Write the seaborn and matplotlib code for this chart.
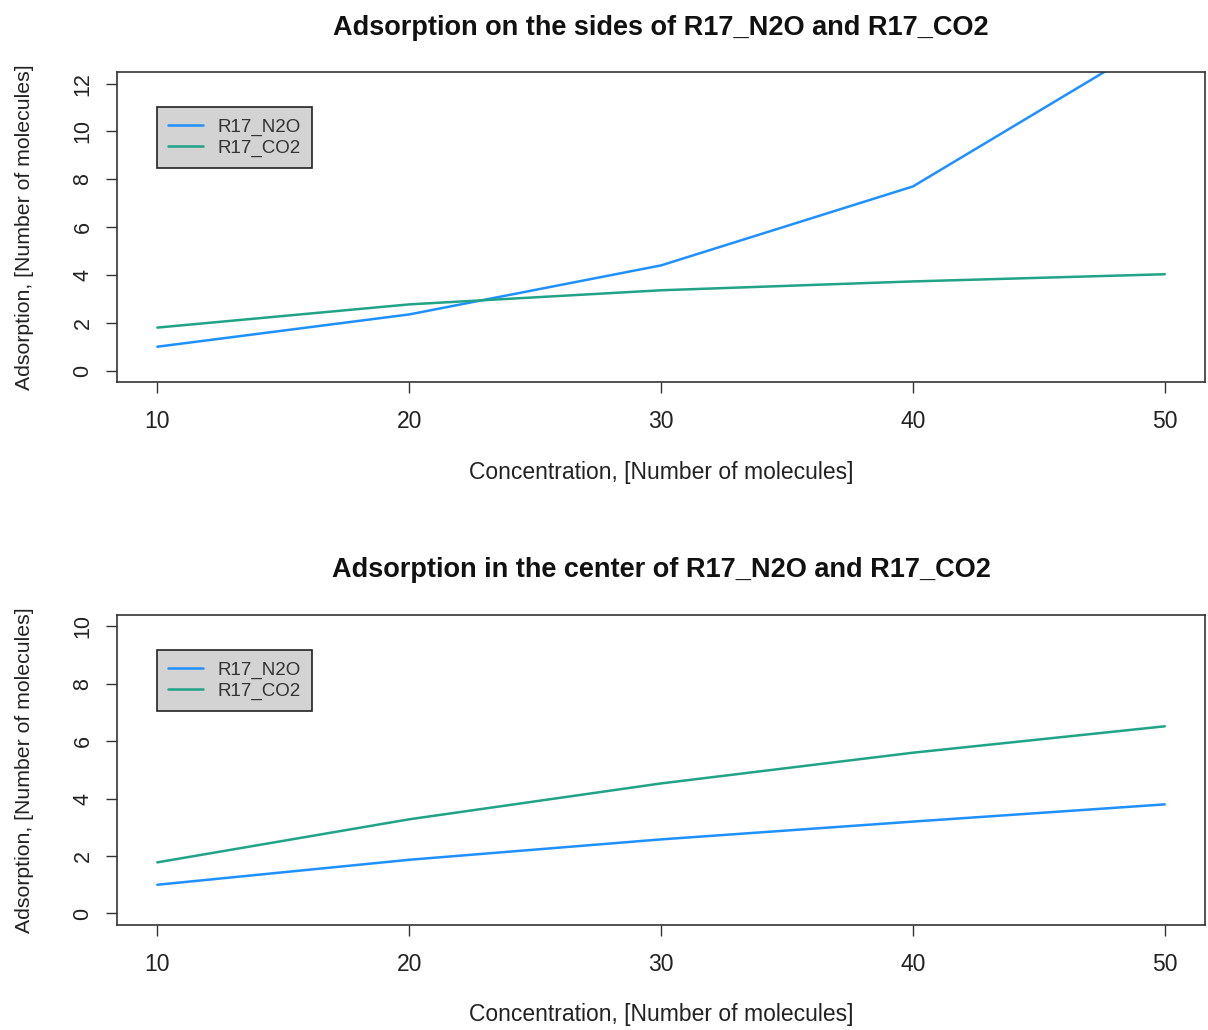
import numpy as np
import pandas as pd
import matplotlib
matplotlib.use("Agg")
import matplotlib.pyplot as plt
import seaborn as sns

# concentration values (x axis)
concentration = [10, 20, 30, 40, 50]

# adsorption on the sides
sides_n2o = [1.0, 2.35, 4.4, 7.7, 14.0]
sides_co2 = [1.8, 2.77, 3.36, 3.73, 4.03]

# adsorption in the center
center_n2o = [1.0, 1.87, 2.58, 3.2, 3.8]
center_co2 = [1.78, 3.28, 4.53, 5.6, 6.52]

series_names = ["R17_N2O", "R17_CO2"]
colors = ["#1E90FF", "#20A387"]

sns.set_style("white")
plt.rcParams['font.family'] = ['Liberation Sans', 'DejaVu Sans']

fig = plt.figure(figsize=(12.08, 10.30), dpi=100)
ax_top = fig.add_axes([0.0969, 0.629, 0.9007, 0.301])
ax_bot = fig.add_axes([0.0969, 0.102, 0.9007, 0.301])


def make_df(n2o, co2):
    df = pd.DataFrame({
        "Concentration": concentration * 2,
        "Adsorption": n2o + co2,
        "Series": [series_names[0]] * len(n2o) + [series_names[1]] * len(co2),
    })
    return df


def draw_panel(ax, df, title, ymax, yticks):
    sns.lineplot(data=df, x="Concentration", y="Adsorption", hue="Series",
                 palette=colors, linewidth=1.8, ax=ax, legend=False)
    ax.set_xlim(10 - 1.6, 50 + 1.6)
    ax.set_ylim(-0.04 * ymax, ymax * 1.04)
    ax.set_xticks(concentration)
    ax.set_yticks(yticks)
    ax.set_yticklabels([str(t) for t in yticks], rotation=90, va="center",
                       fontsize=15.5)
    ax.tick_params(axis="both", direction="out", length=8, width=1,
                   color="#333333", labelcolor="#222222",
                   pad=9, left=True, bottom=True)
    ax.tick_params(axis="x", pad=12, labelsize=16.5)
    for s in ax.spines.values():
        s.set_visible(True)
        s.set_color("#333333")
        s.set_linewidth(1.2)
    ax.set_xlabel("Concentration, [Number of molecules]", fontsize=16.5,
                  color="#222222", labelpad=20)
    ax.set_ylabel("Adsorption, [Number of molecules]", fontsize=15.3,
                  color="#222222", labelpad=28)
    ax.set_title(title, fontsize=19.5, fontweight="bold", pad=27, color="#111111")
    handles = [plt.Line2D([], [], color=c, linewidth=1.8) for c in colors]
    leg = ax.legend(handles, series_names, loc="upper left",
                    bbox_to_anchor=(0.0368, 0.887), fontsize=13.5,
                    fancybox=False, framealpha=1, facecolor="#D3D3D3",
                    edgecolor="#222222", handlelength=1.85, borderpad=0.6,
                    labelspacing=0.2, handletextpad=0.75, borderaxespad=0)
    leg.get_frame().set_linewidth(1.2)
    for t in leg.get_texts():
        t.set_color("#333333")


draw_panel(ax_top, make_df(sides_n2o, sides_co2),
           "Adsorption on the sides of R17_N2O and R17_CO2", 12, [0, 2, 4, 6, 8, 10, 12])
draw_panel(ax_bot, make_df(center_n2o, center_co2),
           "Adsorption in the center of R17_N2O and R17_CO2", 10, [0, 2, 4, 6, 8, 10])

plt.savefig("out.png", dpi=100)
